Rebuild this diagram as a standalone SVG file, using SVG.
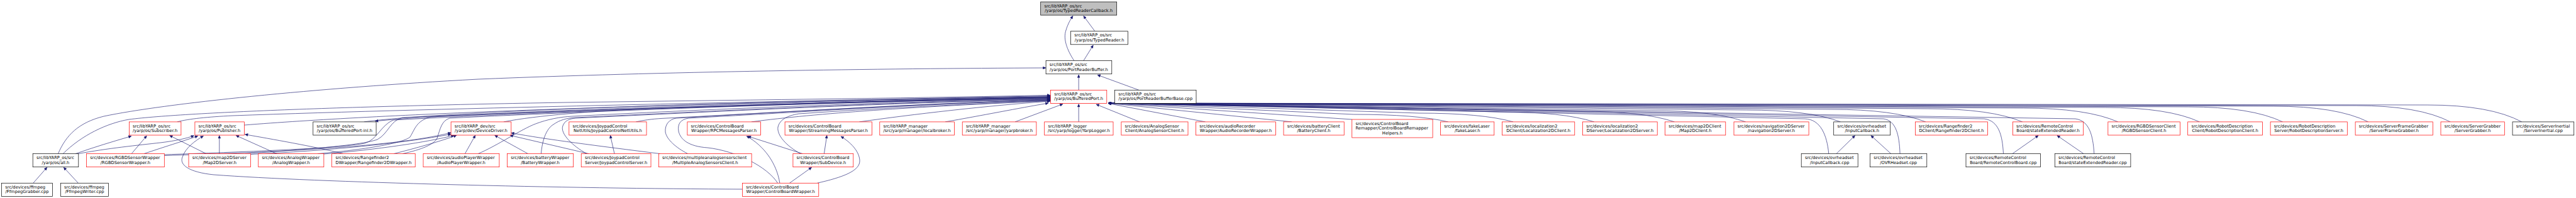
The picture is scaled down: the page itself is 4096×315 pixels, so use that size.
<svg xmlns="http://www.w3.org/2000/svg" width="4096" height="315" viewBox="0 0 4096 315">
<defs>
<style>
.n rect{fill:#fff;stroke:#000;stroke-width:0.7}
.r rect{stroke:#ff0000}
.g rect{fill:#bfbfbf}
text{font-family:"DejaVu Sans","Liberation Sans",sans-serif;font-size:6.72px;fill:#000}
.m{text-anchor:middle}
#edges path{fill:none;stroke:#191970;stroke-width:0.65;marker-end:url(#ah)}
</style>
<marker id="ah" viewBox="0 0 10 10" refX="10" refY="5" markerWidth="6.5" markerHeight="4.6" markerUnits="userSpaceOnUse" orient="auto"><path d="M0,0 L10,5 L0,10 z" fill="#191970" stroke="#191970" stroke-width="0.5"/></marker>
</defs>
<rect width="4096" height="315" fill="#fff"/>
<g id="edges">
<path d="M1740.9,49.7 L1722.9,25.3"/>
<path d="M1707.9,96.6 C1697,80 1690,62 1695,48 C1698,38 1702,31 1706,25.3"/>
<path d="M1722.9,96.6 L1738.3,71.8"/>
<path d="M1715.2,143.3 L1715.2,118.8"/>
<path d="M1810.9,143.3 L1745,119.2"/>
<path d="M1715.2,193.9 L1715.2,165.5"/>
<path d="M1812,193.9 L1743,166"/>
<path d="M1916.6,193.9 L1762,164.5"/>
<path d="M2054,193.9 L1762,164.2"/>
<path d="M2149.75,190 L1762,164"/>
<path d="M2302.7,193.9 Q2252.7,182 2152.7,182 L1762,164"/>
<path d="M2406.1,193.9 Q2356.1,180 2256.1,180 L1762,164"/>
<path d="M2534.8,193.9 Q2484.8,178 2384.8,178 L1762,164"/>
<path d="M2662.5,193.9 Q2612.5,177 2512.5,177 L1762,164"/>
<path d="M2775.7,193.9 Q2725.7,176 2625.7,176 L1762,164"/>
<path d="M2926.5,193.9 Q2876.5,175 2776.5,175 L1762,164"/>
<path d="M3061.9,193.9 Q3011.9,174 2911.9,174 L1762,164"/>
<path d="M3215.8,193.9 Q3165.8,173 3065.8,173 L1762,164"/>
<path d="M3367.7,193.9 Q3317.7,172 3217.7,172 L1762,164"/>
<path d="M3497.4,193.9 Q3447.4,171 3347.4,171 L1762,164"/>
<path d="M3629.5,193.9 Q3579.5,170 3479.5,170 L1762,164"/>
<path d="M3765.6,193.9 Q3715.6,169 3615.6,169 L1762,164"/>
<path d="M3896.2,193.9 Q3846.2,168 3746.2,168 L1762,164"/>
<path d="M4009.8,193.9 Q3959.8,167 3859.8,167 L1762,164"/>
<path d="M2907.8,244.6 C2905,215 2895,190 2870,189 L1762,164"/>
<path d="M3021.1,244.6 C3020,215 3015,192 2995,189 L1762,164"/>
<path d="M3185.5,244.6 C3184,215 3178,192 3155,189 L1762,164"/>
<path d="M3329.8,244.6 C3328,215 3322,192 3300,189 L1762,164"/>
<path d="M2919.9,244.6 L2949.6,215.6"/>
<path d="M3006.8,244.6 L2974.9,215.6"/>
<path d="M3199.8,244.6 L3241.1,215.6"/>
<path d="M3313.1,244.6 L3270.9,215.6"/>
<path d="M92.4,244.6 C105,215 125,195 165,185 C260,165 500,140 760,126 C1050,114 1400,109 1663,108"/>
<path d="M100.1,244.6 C130,215 170,196 205,190 C300,178 600,168 900,163 C1200,159 1450,156 1670,151.5"/>
<path d="M281.7,193.9 C300,189 330,186 370,184 C700,172 1300,160 1670,152.5"/>
<path d="M388.4,199 C600,182 1000,166 1670,153.5"/>
<path d="M578.8,193.9 C700,177 1200,160 1670,154"/>
<path d="M1670,155 C1200,162 720,180 596.5,192.8"/>
<path d="M120,244.6 C150,234 180,225 209,216.5"/>
<path d="M124.4,244.6 C170,236 220,231 255,227 C280,224 297,220 308.5,215.8"/>
<path d="M209.1,244.6 L233.3,216"/>
<path d="M228.9,244.6 C260,234 290,225 314.7,216.3"/>
<path d="M327.9,244.6 L269.6,215.5"/>
<path d="M348.8,244.6 L348.8,215.5"/>
<path d="M440.1,244.6 L375.2,215.5"/>
<path d="M545.7,244.6 C500,233 430,221 389.5,213.8"/>
<path d="M1180.5,301 C900,300 500,290 340,278 C300,274 285,262 290,250 C295,235 310,224 323.5,216.3"/>
<path d="M52.8,291.3 L74.8,266.2"/>
<path d="M124.4,291.3 L101.2,266.2"/>
<path d="M261.3,247.5 C400,243 620,236 717.1,211"/>
<path d="M398.5,245.5 C520,240 640,228 717.1,213.5"/>
<path d="M514.9,245 C600,238 680,226 722,215.3"/>
<path d="M626.1,244.6 C660,236 700,225 726,215.3"/>
<path d="M739.3,244.6 L755.8,215.3"/>
<path d="M839.5,244.6 L786.6,215.3"/>
<path d="M936.3,244.6 L810.9,215.3"/>
<path d="M1049.6,244.6 C950,232 870,222 812.8,211.5"/>
<path d="M977,244.6 L970.4,215.3"/>
<path d="M261.3,246 C380,242 540,236 580,228 C600,222 605,200 625,191 C900,176 1400,160 1670,154.5"/>
<path d="M390,244.6 C480,238 570,232 600,222 C618,212 620,192 640,187 C900,175 1400,160 1670,155"/>
<path d="M505,244.6 C580,238 640,228 652,218 C660,205 662,192 685,186 C950,174 1400,160 1670,155.5"/>
<path d="M640,244.6 C670,238 690,230 695,220 C700,205 702,192 715,188 C950,176 1400,160 1670,156"/>
<path d="M760.2,244.6 C790,232 830,205 851.6,197 C870,190 890,186 910,185 C1100,175 1400,162 1670,157"/>
<path d="M860.4,244.6 C862,225 868,205 880,198 C890,191 900,188 915,187 C1150,176 1400,163 1670,157.5"/>
<path d="M933,244.6 C910,232 890,212 895,200 C898,192 905,189 915,188 C1150,177 1400,164 1670,158"/>
<path d="M1011.2,193.9 C1030,190 1040,189 1060,188 C1250,178 1450,166 1670,158.5"/>
<path d="M800.9,193.9 C850,184 950,176 1030,173 C1250,166 1450,160 1670,156.5"/>
<path d="M1093.6,244.6 C1075,235 1060,222 1058,210 C1057,198 1064,190 1075,188 C1250,178 1450,165 1670,159"/>
<path d="M1236.6,291.3 C1220,265 1170,240 1125,235 C1095,233 1082,222 1079,209 C1077,197 1082,190 1095,188 C1300,177 1450,166 1670,159.5"/>
<path d="M1239.9,291.3 C1235,260 1215,232 1187.1,216.5"/>
<path d="M1276.3,244.6 L1189.3,216.8"/>
<path d="M1310.4,244.6 L1314.8,215.3"/>
<path d="M1273,244.6 C1250,232 1235,215 1237,202 C1240,190 1252,184 1270,181 C1400,172 1530,166 1670,160"/>
<path d="M1255.4,291.3 L1290.6,266.3"/>
<path d="M1299.4,291.3 C1340,282 1368,272 1367,255 C1366,240 1352,226 1337,217"/>
<path d="M1194.8,193.9 C1300,180 1450,170 1670,160.5"/>
<path d="M1366.4,193.9 C1450,182 1570,168 1670,161"/>
<path d="M1502.9,193.9 C1560,184 1620,172 1667,164"/>
<path d="M1614,193.9 L1690,165.5"/>
</g>
<g id="n_trc" class="n g"><rect x="1654.7" y="3" width="121" height="21.1"/><text x="1660.4" y="11.7">src/libYARP_os/src</text><text class="m" x="1715.2" y="19.1">/yarp/os/TypedReaderCallback.h</text></g>
<g id="n_tr" class="n"><rect x="1702.6" y="49.7" width="90.9" height="21.1"/><text x="1708.3" y="58.4">src/libYARP_os/src</text><text class="m" x="1748.05" y="65.8">/yarp/os/TypedReader.h</text></g>
<g id="n_prb" class="n"><rect x="1663.1" y="96.6" width="104.7" height="21.1"/><text x="1668.8" y="105.3">src/libYARP_os/src</text><text class="m" x="1715.45" y="112.7">/yarp/os/PortReaderBuffer.h</text></g>
<g id="n_bp" class="n r"><rect x="1670.6" y="143.3" width="89.2" height="21.1"/><text x="1676.3" y="152">src/libYARP_os/src</text><text class="m" x="1715.2" y="159.4">/yarp/os/BufferedPort.h</text></g>
<g id="n_prbb" class="n"><rect x="1772.6" y="143.3" width="129.4" height="21.1"/><text x="1778.3" y="152">src/libYARP_os/src</text><text class="m" x="1837.3" y="159.4">/yarp/os/PortReaderBufferBase.cpp</text></g>
<g id="n_sub" class="n r"><rect x="205.4" y="193.9" width="82.5" height="21.1"/><text x="211.1" y="202.6">src/libYARP_os/src</text><text class="m" x="246.65" y="210">/yarp/os/Subscriber.h</text></g>
<g id="n_pub" class="n r"><rect x="309.9" y="193.9" width="78.5" height="21.1"/><text x="315.6" y="202.6">src/libYARP_os/src</text><text class="m" x="349.15" y="210">/yarp/os/Publisher.h</text></g>
<g id="n_bpinl" class="n"><rect x="497.8" y="193.9" width="100.3" height="21.1"/><text x="503.5" y="202.6">src/libYARP_os/src</text><text class="m" x="547.95" y="210">/yarp/os/BufferedPort-inl.h</text></g>
<g id="n_dd" class="n r"><rect x="717.1" y="193.9" width="95.7" height="21.1"/><text x="722.8" y="202.6">src/libYARP_dev/src</text><text class="m" x="764.95" y="210">/yarp/dev/DeviceDriver.h</text></g>
<g id="n_jcnu" class="n r"><rect x="904.8" y="193.9" width="123.2" height="21.1"/><text x="910.5" y="202.6">src/devices/JoypadControl</text><text class="m" x="966.4" y="210">NetUtils/JoypadControlNetUtils.h</text></g>
<g id="n_rpc" class="n r"><rect x="1092.9" y="193.9" width="116.5" height="21.1"/><text x="1098.6" y="202.6">src/devices/ControlBoard</text><text class="m" x="1151.15" y="210">Wrapper/RPCMessagesParser.h</text></g>
<g id="n_smp" class="n r"><rect x="1248.1" y="193.9" width="138.3" height="21.1"/><text x="1253.8" y="202.6">src/devices/ControlBoard</text><text class="m" x="1317.25" y="210">Wrapper/StreamingMessagesParser.h</text></g>
<g id="n_lb" class="n r"><rect x="1398.8" y="193.9" width="118.6" height="21.1"/><text x="1404.5" y="202.6">src/libYARP_manager</text><text class="m" x="1458.1" y="210">/src/yarp/manager/localbroker.h</text></g>
<g id="n_yb" class="n r"><rect x="1530.2" y="193.9" width="117.7" height="21.1"/><text x="1535.9" y="202.6">src/libYARP_manager</text><text class="m" x="1589.05" y="210">/src/yarp/manager/yarpbroker.h</text></g>
<g id="n_yl" class="n r"><rect x="1660.7" y="193.9" width="109.3" height="21.1"/><text x="1666.4" y="202.6">src/libYARP_logger</text><text class="m" x="1715.35" y="210">/src/yarp/logger/YarpLogger.h</text></g>
<g id="n_asc" class="n r"><rect x="1782.9" y="193.9" width="106.1" height="21.1"/><text x="1788.6" y="202.6">src/devices/AnalogSensor</text><text class="m" x="1835.95" y="210">Client/AnalogSensorClient.h</text></g>
<g id="n_arw" class="n r"><rect x="1901.6" y="193.9" width="126.8" height="21.1"/><text x="1907.3" y="202.6">src/devices/audioRecorder</text><text class="m" x="1965" y="210">Wrapper/AudioRecorderWrapper.h</text></g>
<g id="n_bc" class="n r"><rect x="2041" y="193.9" width="96.2" height="21.1"/><text x="2046.7" y="202.6">src/devices/batteryClient</text><text class="m" x="2089.1" y="210">/BatteryClient.h</text></g>
<g id="n_cbrh" class="n r"><rect x="2149.75" y="190" width="128.3" height="29"/><text x="2155.45" y="198.7">src/devices/ControlBoard</text><text x="2155.45" y="206.1">Remapper/ControlBoardRemapper</text><text class="m" x="2213.9" y="213.5">Helpers.h</text></g>
<g id="n_fl" class="n r"><rect x="2290.6" y="193.9" width="85.2" height="21.1"/><text x="2296.3" y="202.6">src/devices/fakeLaser</text><text class="m" x="2333.2" y="210">/fakeLaser.h</text></g>
<g id="n_l2dc" class="n r"><rect x="2388.5" y="193.9" width="115.3" height="21.1"/><text x="2394.2" y="202.6">src/devices/localization2</text><text class="m" x="2446.15" y="210">DClient/Localization2DClient.h</text></g>
<g id="n_l2ds" class="n r"><rect x="2516.6" y="193.9" width="118.6" height="21.1"/><text x="2522.3" y="202.6">src/devices/localization2</text><text class="m" x="2575.9" y="210">DServer/Localization2DServer.h</text></g>
<g id="n_m2dc" class="n r"><rect x="2647.5" y="193.9" width="96.3" height="21.1"/><text x="2653.2" y="202.6">src/devices/map2DClient</text><text class="m" x="2695.65" y="210">/Map2DClient.h</text></g>
<g id="n_n2ds" class="n r"><rect x="2757" y="193.9" width="119.1" height="21.1"/><text x="2762.7" y="202.6">src/devices/navigation2DServer</text><text class="m" x="2816.55" y="210">/navigation2DServer.h</text></g>
<g id="n_ich" class="n"><rect x="2915.7" y="193.9" width="90" height="21.1"/><text x="2921.4" y="202.6">src/devices/ovrheadset</text><text class="m" x="2960.7" y="210">/InputCallback.h</text></g>
<g id="n_r2dc" class="n r"><rect x="3045.35" y="193.9" width="115.2" height="21.1"/><text x="3051.05" y="202.6">src/devices/Rangefinder2</text><text class="m" x="3102.95" y="210">DClient/Rangefinder2DClient.h</text></g>
<g id="n_serh" class="n r"><rect x="3200.4" y="193.9" width="112.3" height="21.1"/><text x="3206.1" y="202.6">src/devices/RemoteControl</text><text class="m" x="3256.55" y="210">Board/stateExtendedReader.h</text></g>
<g id="n_rgbdc" class="n r"><rect x="3351.85" y="193.9" width="114.5" height="21.1"/><text x="3357.55" y="202.6">src/devices/RGBDSensorClient</text><text class="m" x="3409.1" y="210">/RGBDSensorClient.h</text></g>
<g id="n_rdc" class="n r"><rect x="3478.7" y="193.9" width="118.7" height="21.1"/><text x="3484.4" y="202.6">src/devices/RobotDescription</text><text class="m" x="3538.05" y="210">Client/RobotDescriptionClient.h</text></g>
<g id="n_rds" class="n r"><rect x="3610.1" y="193.9" width="122.2" height="21.1"/><text x="3615.8" y="202.6">src/devices/RobotDescription</text><text class="m" x="3671.2" y="210">Server/RobotDescriptionServer.h</text></g>
<g id="n_sfg" class="n r"><rect x="3745.1" y="193.9" width="123.2" height="21.1"/><text x="3750.8" y="202.6">src/devices/ServerFrameGrabber</text><text class="m" x="3806.7" y="210">/ServerFrameGrabber.h</text></g>
<g id="n_sg" class="n r"><rect x="3881" y="193.9" width="101.3" height="21.1"/><text x="3886.7" y="202.6">src/devices/ServerGrabber</text><text class="m" x="3931.65" y="210">/ServerGrabber.h</text></g>
<g id="n_si" class="n"><rect x="3995.05" y="193.9" width="97.7" height="21.1"/><text x="4000.75" y="202.6">src/devices/ServerInertial</text><text class="m" x="4043.9" y="210">/ServerInertial.cpp</text></g>
<g id="n_all" class="n"><rect x="52.2" y="244.6" width="72.6" height="21.1"/><text x="57.9" y="253.3">src/libYARP_os/src</text><text class="m" x="88.5" y="260.7">/yarp/os/all.h</text></g>
<g id="n_rgbdw" class="n r"><rect x="137.6" y="244.6" width="123.7" height="21.1"/><text x="143.3" y="253.3">src/devices/RGBDSensorWrapper</text><text class="m" x="199.45" y="260.7">/RGBDSensorWrapper.h</text></g>
<g id="n_m2ds" class="n r"><rect x="300" y="244.6" width="98.5" height="21.1"/><text x="305.7" y="253.3">src/devices/map2DServer</text><text class="m" x="349.25" y="260.7">/Map2DServer.h</text></g>
<g id="n_aw" class="n r"><rect x="410.8" y="244.6" width="104.1" height="21.1"/><text x="416.5" y="253.3">src/devices/AnalogWrapper</text><text class="m" x="462.85" y="260.7">/AnalogWrapper.h</text></g>
<g id="n_r2dw" class="n r"><rect x="527.7" y="244.6" width="132.5" height="21.1"/><text x="533.4" y="253.3">src/devices/Rangefinder2</text><text class="m" x="593.95" y="260.7">DWrapper/Rangefinder2DWrapper.h</text></g>
<g id="n_apw" class="n r"><rect x="673" y="244.6" width="120.9" height="21.1"/><text x="678.7" y="253.3">src/devices/audioPlayerWrapper</text><text class="m" x="733.45" y="260.7">/AudioPlayerWrapper.h</text></g>
<g id="n_bw" class="n r"><rect x="806.5" y="244.6" width="105.2" height="21.1"/><text x="812.2" y="253.3">src/devices/batteryWrapper</text><text class="m" x="859.1" y="260.7">/BatteryWrapper.h</text></g>
<g id="n_jcs" class="n r"><rect x="924.2" y="244.6" width="110.8" height="21.1"/><text x="929.9" y="253.3">src/devices/JoypadControl</text><text class="m" x="979.6" y="260.7">Server/JoypadControlServer.h</text></g>
<g id="n_masc" class="n r"><rect x="1047.4" y="244.6" width="147.7" height="21.1"/><text x="1053.1" y="253.3">src/devices/multipleanalogsensorsclient</text><text class="m" x="1121.25" y="260.7">/MultipleAnalogSensorsClient.h</text></g>
<g id="n_subdev" class="n r"><rect x="1260.9" y="244.6" width="95.9" height="21.1"/><text x="1266.6" y="253.3">src/devices/ControlBoard</text><text class="m" x="1308.85" y="260.7">Wrapper/SubDevice.h</text></g>
<g id="n_iccpp" class="n"><rect x="2864.2" y="244.6" width="90" height="21.1"/><text x="2869.9" y="253.3">src/devices/ovrheadset</text><text class="m" x="2909.2" y="260.7">/InputCallback.cpp</text></g>
<g id="n_ovr" class="n"><rect x="2973.6" y="244.6" width="90.2" height="21.1"/><text x="2979.3" y="253.3">src/devices/ovrheadset</text><text class="m" x="3018.7" y="260.7">/OVRHeadset.cpp</text></g>
<g id="n_rcb" class="n"><rect x="3126" y="244.6" width="118.6" height="21.1"/><text x="3131.7" y="253.3">src/devices/RemoteControl</text><text class="m" x="3185.3" y="260.7">Board/RemoteControlBoard.cpp</text></g>
<g id="n_sercpp" class="n"><rect x="3267.3" y="244.6" width="120.6" height="21.1"/><text x="3273" y="253.3">src/devices/RemoteControl</text><text class="m" x="3327.6" y="260.7">Board/stateExtendedReader.cpp</text></g>
<g id="n_fg" class="n"><rect x="2.6" y="291.3" width="81" height="21.1"/><text x="8.3" y="300">src/devices/ffmpeg</text><text class="m" x="43.1" y="307.4">/FfmpegGrabber.cpp</text></g>
<g id="n_fw" class="n"><rect x="96.4" y="291.3" width="76.2" height="21.1"/><text x="102.1" y="300">src/devices/ffmpeg</text><text class="m" x="134.5" y="307.4">/FfmpegWriter.cpp</text></g>
<g id="n_cbw" class="n r"><rect x="1180.5" y="291.3" width="121.3" height="21.1"/><text x="1186.2" y="300">src/devices/ControlBoard</text><text class="m" x="1241.15" y="307.4">Wrapper/ControlBoardWrapper.h</text></g>
</svg>
